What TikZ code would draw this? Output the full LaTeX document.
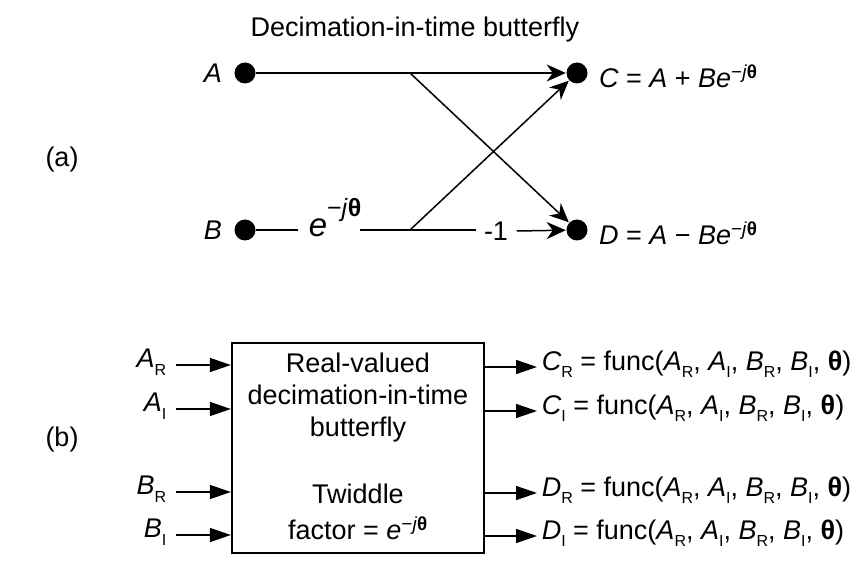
\documentclass[tikz,border=0pt]{standalone}
\usepackage{fontspec}
\setmainfont{Liberation Sans}
\usepackage{tikz}
\usetikzlibrary{positioning,arrows.meta,calc}
\newcommand{\ssub}[2]{\textit{#1}\raisebox{-0.28em}{\fontsize{16}{16}\selectfont #2}}
\newcommand{\thb}{\textbf{θ}}
\newcommand{\twid}{\textit{e}\textsuperscript{−\textit{j}\thb}}
\newcommand{\fnc}{func(\ssub{A}{R}, \ssub{A}{I}, \ssub{B}{R}, \ssub{B}{I}, \thb)}

\begin{document}
\begin{tikzpicture}[x=1pt,y=-1pt,line width=1.5pt,
  every node/.style={font=\fontsize{27}{32}\selectfont,inner sep=0pt},
  dot/.style={circle,fill=black,minimum size=21pt},
  fly/.style={-{Stealth[length=19pt,width=17pt,inset=6pt]}},
  pin/.style={-{Triangle[length=21pt,width=14pt]}}]
  \useasboundingbox (0,0) rectangle (859,561);
  % (a) the butterfly
  \node (title) at (415,30) {Decimation-in-time butterfly};
  \node (pa) at (62,160) {(a)};
  \node[dot] (A) at (245,73) {};
  \node[dot] (B) at (245,230) {};
  \node[dot] (C) at (577,73) {};
  \node[dot] (D) at (577,230) {};
  \node[left=11pt of A] (lA) {\textit{A}};
  \node[left=11pt of B] (lB) {\textit{B}};
  \node[right=10pt of C,yshift=-3pt] (lC) {\textit{C} = \textit{A} + \textit{B}\twid};
  \node[right=10pt of D,yshift=-3pt] (lD) {\textit{D} = \textit{A} − \textit{B}\twid};
  \node[anchor=base west,font=\fontsize{33}{36}\selectfont] (tw) at (308,237)
    {\textit{e}\raisebox{0.62em}{\fontsize{25}{25}\selectfont −\textit{j}\thb}};
  \node (m1) at (496,231) {-1};
  \coordinate (b1) at (298,230);
  \coordinate (b2) at (360,230);
  \coordinate (b3) at (476,230);
  \coordinate (ta) at (410,73);
  \coordinate (tb) at (410,230);
  \draw[fly] (A) -- (C);
  \draw (B) -- (b1);
  \draw (b2) -- (b3);
  \draw[fly] (m1.east) ++(8,0) -- (D);
  \draw[fly] (ta) -- (D);
  \draw[fly] (tb) -- (C);
  % (b) real-valued block
  \node (pb) at (62,440) {(b)};
  \node[draw,line width=2.2pt,minimum width=252pt,minimum height=210pt] (bf) at (358,448) {};
  \node[align=center,font=\fontsize{27}{32}\selectfont] (bt) at (358,398) {Real-valued\\decimation-in-time\\butterfly};
  \node[align=center,font=\fontsize{27}{36}\selectfont] (bw) at (358,512) {Twiddle\\factor = \twid};
  \foreach \n/\y/\l in {ar/365/{\ssub{A}{R}},ai/409/{\ssub{A}{I}},br/492/{\ssub{B}{R}},bi/535/{\ssub{B}{I}}}{
    \coordinate (i\n) at (176,\y);
    \node[anchor=east] (l\n) at ([xshift=-9pt,yshift=3pt]i\n) {\l};
    \draw[pin] (i\n) -- (bf.west |- i\n);
  }
  \foreach \n/\y/\l in {cr/367/{\ssub{C}{R}},ci/411/{\ssub{C}{I}},dr/493/{\ssub{D}{R}},di/536/{\ssub{D}{I}}}{
    \coordinate (o\n) at (537,\y);
    \node[anchor=west] (l\n) at ([xshift=4pt,yshift=3pt]o\n) {\l\ = \fnc};
    \draw[pin] (bf.east |- o\n) -- (o\n);
  }
\end{tikzpicture}
\end{document}
